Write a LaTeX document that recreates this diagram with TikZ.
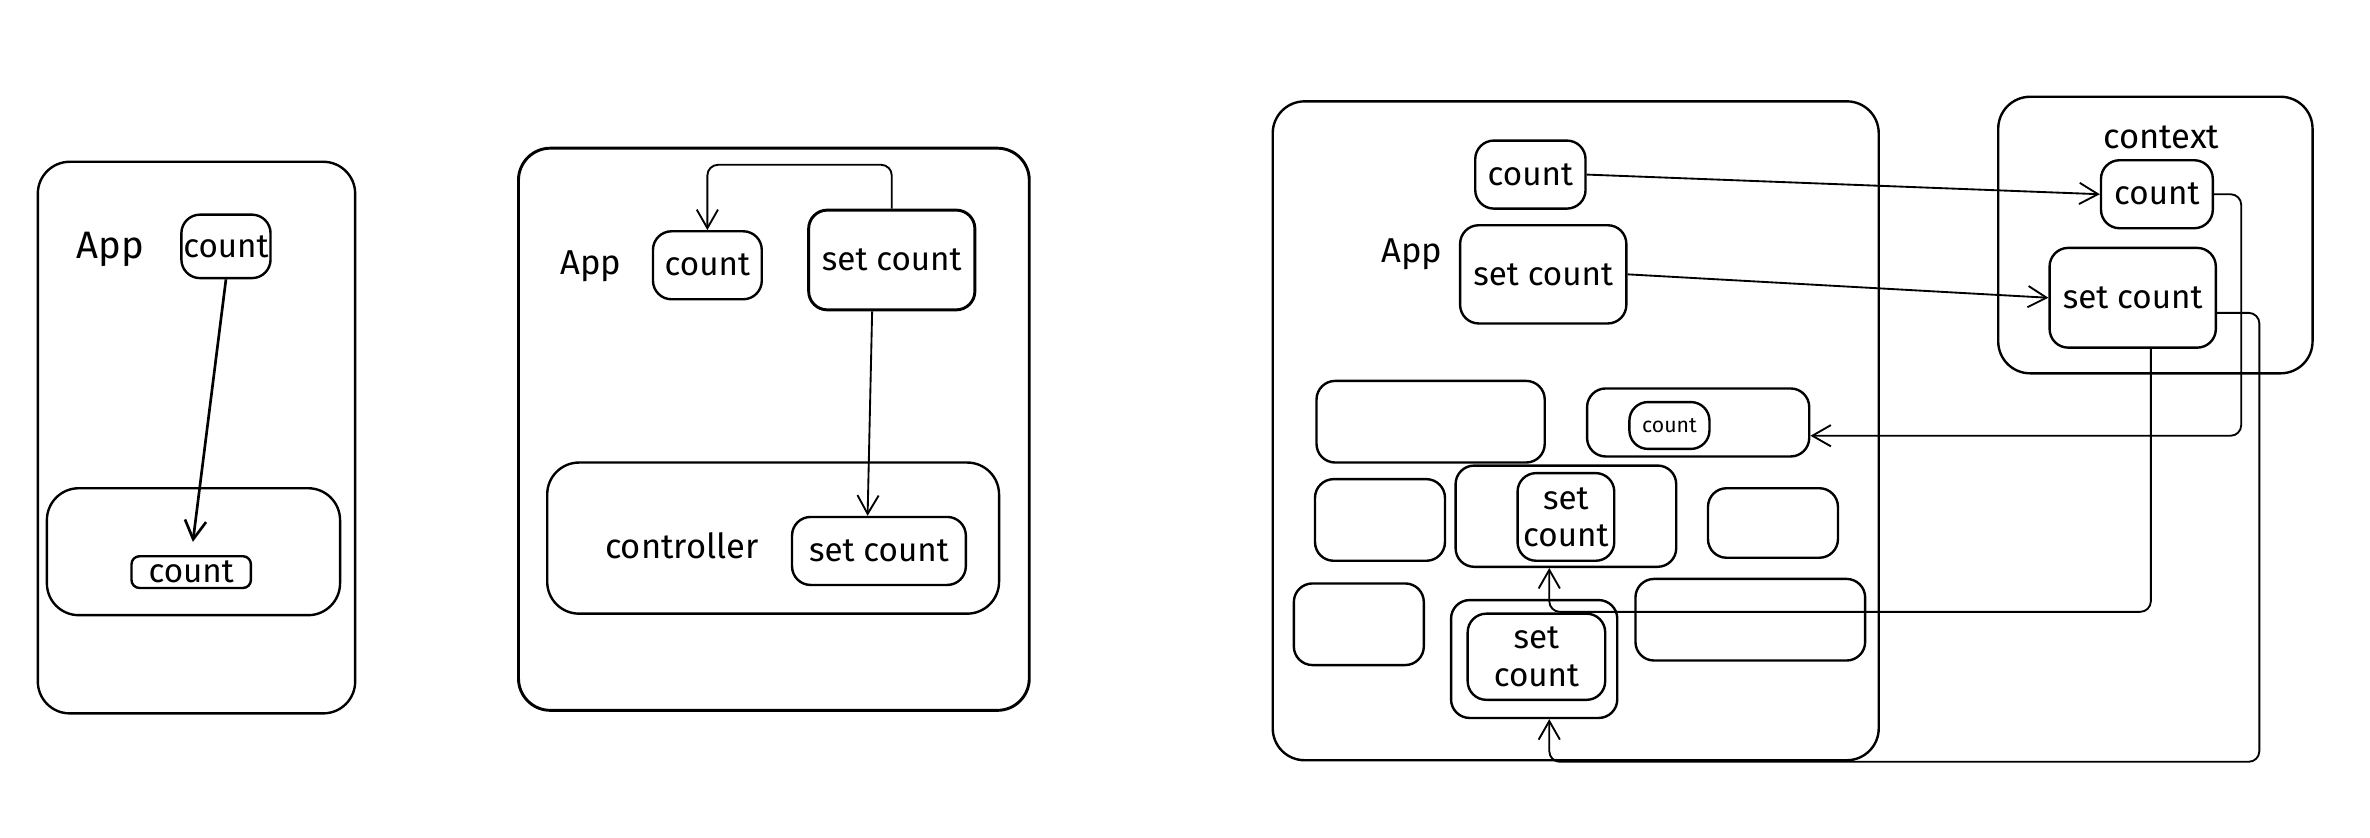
\documentclass[tikz,border=0pt]{standalone}
\usepackage{fontspec}
\setmainfont{Fira Sans}
\usepackage{tikz}
\usetikzlibrary{arrows.meta}

\begin{document}
\begin{tikzpicture}[x=0.02cm,y=-0.02cm,->,>={Straight Barb[length=7pt,width=8pt]},
	line width=0.7pt,rounded corners=4pt,
	main node/.style={draw,-,line width=0.9pt,rounded corners=7pt,inner sep=0pt,align=center,font=\fontsize{12.5}{14}\selectfont},
	big node/.style={main node,rounded corners=12pt},
	text node/.style={font=\fontsize{13}{14}\selectfont}]
\useasboundingbox (0,0) rectangle (1568,554.4);
\node[big node,minimum width=4.2cm,minimum height=7.3cm] (1) at (130,289.5) {};
\node[text node,font=\Large] (2) at (73,165) {App};
\node[main node,minimum width=1.18cm,minimum height=0.84cm] (3) at (149.5,163) {count};
\node[big node,minimum width=3.88cm,minimum height=1.68cm] (4) at (128,365) {};
\node[main node,rounded corners=3pt,minimum width=1.58cm,minimum height=0.42cm] (5) at (126.5,378.5) {count};
\node[big node,line width=1.1pt,minimum width=6.76cm,minimum height=7.44cm] (6) at (512,284) {};
\node[text node] (7) at (391,176) {App};
\node[main node,minimum width=1.44cm,minimum height=0.9cm] (8) at (468,175.5) {count};
\node[main node,line width=1.1pt,minimum width=2.2cm,minimum height=1.32cm] (9) at (590,172) {set count};
\node[big node,minimum width=5.98cm,minimum height=2cm] (10) at (511.5,356) {};
\node[text node] (11) at (451,361) {controller};
\node[main node,minimum width=2.3cm,minimum height=0.9cm] (12) at (581.5,364.5) {set count};
\node[big node,minimum width=8.02cm,minimum height=8.72cm] (13) at (1042.5,285) {};
\node[text node] (14) at (934,168) {App};
\node[main node,minimum width=1.46cm,minimum height=0.9cm] (15) at (1012.5,115.5) {count};
\node[main node,minimum width=2.2cm,minimum height=1.3cm] (16) at (1021,181.5) {set count};
\node[big node,minimum width=4.16cm,minimum height=3.66cm] (17) at (1426,155.5) {};
\node[text node] (18) at (1430,91) {context};
\node[main node,minimum width=1.48cm,minimum height=0.9cm] (19) at (1427,128.5) {count};
\node[main node,minimum width=2.2cm,minimum height=1.32cm] (20) at (1411,197) {set count};
\node[main node,minimum width=3.02cm,minimum height=1.08cm] (21) at (946.5,279) {};
\node[main node,minimum width=2.94cm,minimum height=0.9cm] (22) at (1123.5,279.5) {};
\node[main node,font=\footnotesize,minimum width=1.06cm,minimum height=0.62cm] (23) at (1104.5,281.5) {count};
\node[main node,minimum width=1.72cm,minimum height=1.08cm] (24) at (913,344) {};
\node[main node,minimum width=2.92cm,minimum height=1.34cm] (25) at (1036,341.5) {};
\node[main node,minimum width=1.28cm,minimum height=1.16cm] (26) at (1036,342) {set\\count};
\node[main node,minimum width=1.72cm,minimum height=0.92cm] (27) at (1173,346) {};
\node[main node,minimum width=1.72cm,minimum height=1.08cm] (28) at (899,413) {};
\node[main node,minimum width=2.2cm,minimum height=1.56cm] (29) at (1015,436) {};
\node[main node,minimum width=1.82cm,minimum height=1.14cm] (30) at (1016.5,434.5) {set\\count};
\node[main node,minimum width=3.04cm,minimum height=1.08cm] (31) at (1158,410) {};
\path
	(3.south) edge[line width=1pt,shorten >=5pt] (5.north)
	([xshift=-0.26cm]9.south) edge ([xshift=-0.15cm]12.north)
	(15.east) edge (19.west)
	(16.east) edge (20.west);
\draw (9.north) -- ++(0,-29) -| (8.north);
\draw (19.east) -- ++(18,0) |- ([yshift=-5pt]22.east);
\draw ([xshift=0.24cm]20.south) -- ++(0,174) -| ([xshift=-0.22cm]25.south);
\draw ([yshift=-0.2cm]20.east) -- ++(28,0) -- ++(0,297) -| ([xshift=0.2cm]29.south);
\end{tikzpicture}
\end{document}
